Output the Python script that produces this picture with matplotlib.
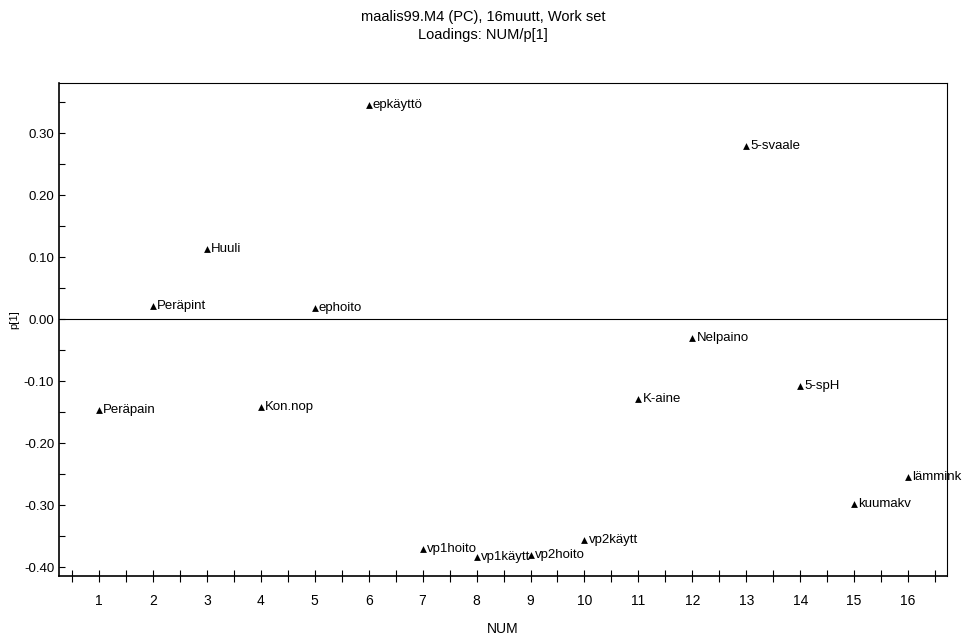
import matplotlib
matplotlib.use("Agg")
import matplotlib.pyplot as plt
from matplotlib.ticker import MultipleLocator

plt.rcParams['font.family'] = ['Liberation Sans', 'DejaVu Sans']

num = [1, 2, 3, 4, 5, 6, 7, 8, 9, 10, 11, 12, 13, 14, 15, 16]
names = ["Peräpain", "Peräpint", "Huuli", "Kon.nop", "ephoito", "epkäyttö",
         "vp1hoito", "vp1käytt", "vp2hoito", "vp2käytt", "K-aine", "Nelpaino",
         "5-svaale", "5-spH", "kuumakv", "lämmink"]
p1 = [-0.147, 0.021, 0.113, -0.142, 0.018, 0.345,
      -0.371, -0.384, -0.381, -0.356, -0.129, -0.031,
      0.279, -0.108, -0.298, -0.255]

fig = plt.figure(figsize=(9.66, 6.4), dpi=100)
ax = fig.add_axes([0.0611, 0.1, 0.9192, 0.7703])

ax.scatter(num, p1, marker='^', s=24, color='black', zorder=3, linewidths=0)
for x, y, n in zip(num, p1, names):
    ax.annotate(n, (x, y), xytext=(3, 0), textcoords='offset points',
                va='center', ha='left', fontsize=9.5, clip_on=False,
                annotation_clip=False)

ax.axhline(0, color='black', linewidth=0.8)

ax.set_xlim(0.26, 16.72)
ax.set_ylim(-0.4145, 0.381)
ax.set_xticks(num)
ax.xaxis.set_minor_locator(MultipleLocator(0.5))
yt = [-0.4, -0.3, -0.2, -0.1, 0.0, 0.1, 0.2, 0.3]
ax.set_yticks(yt)
ax.set_yticklabels([f"{v:.2f}" for v in yt])
ax.yaxis.set_minor_locator(MultipleLocator(0.05))

ax.tick_params(axis='x', which='both', direction='inout', length=8, width=0.8, labelsize=10, pad=9)
ax.tick_params(axis='y', which='both', direction='in', length=4, width=0.8, labelsize=9.5)

for s in ['left', 'bottom']:
    ax.spines[s].set_linewidth(1.2)
for s in ['top', 'right']:
    ax.spines[s].set_linewidth(0.8)

ax.set_xlabel("NUM", fontsize=10, labelpad=10)
fig.text(0.0145, 0.5, "p[1]", rotation=90, fontsize=8, ha='center', va='center')

fig.text(0.5, 0.985, "maalis99.M4 (PC), 16muutt, Work set", ha='center', va='top', fontsize=10.5)
fig.text(0.5, 0.957, "Loadings: NUM/p[1]", ha='center', va='top', fontsize=10.5)

fig.savefig("out.png", dpi=100)
